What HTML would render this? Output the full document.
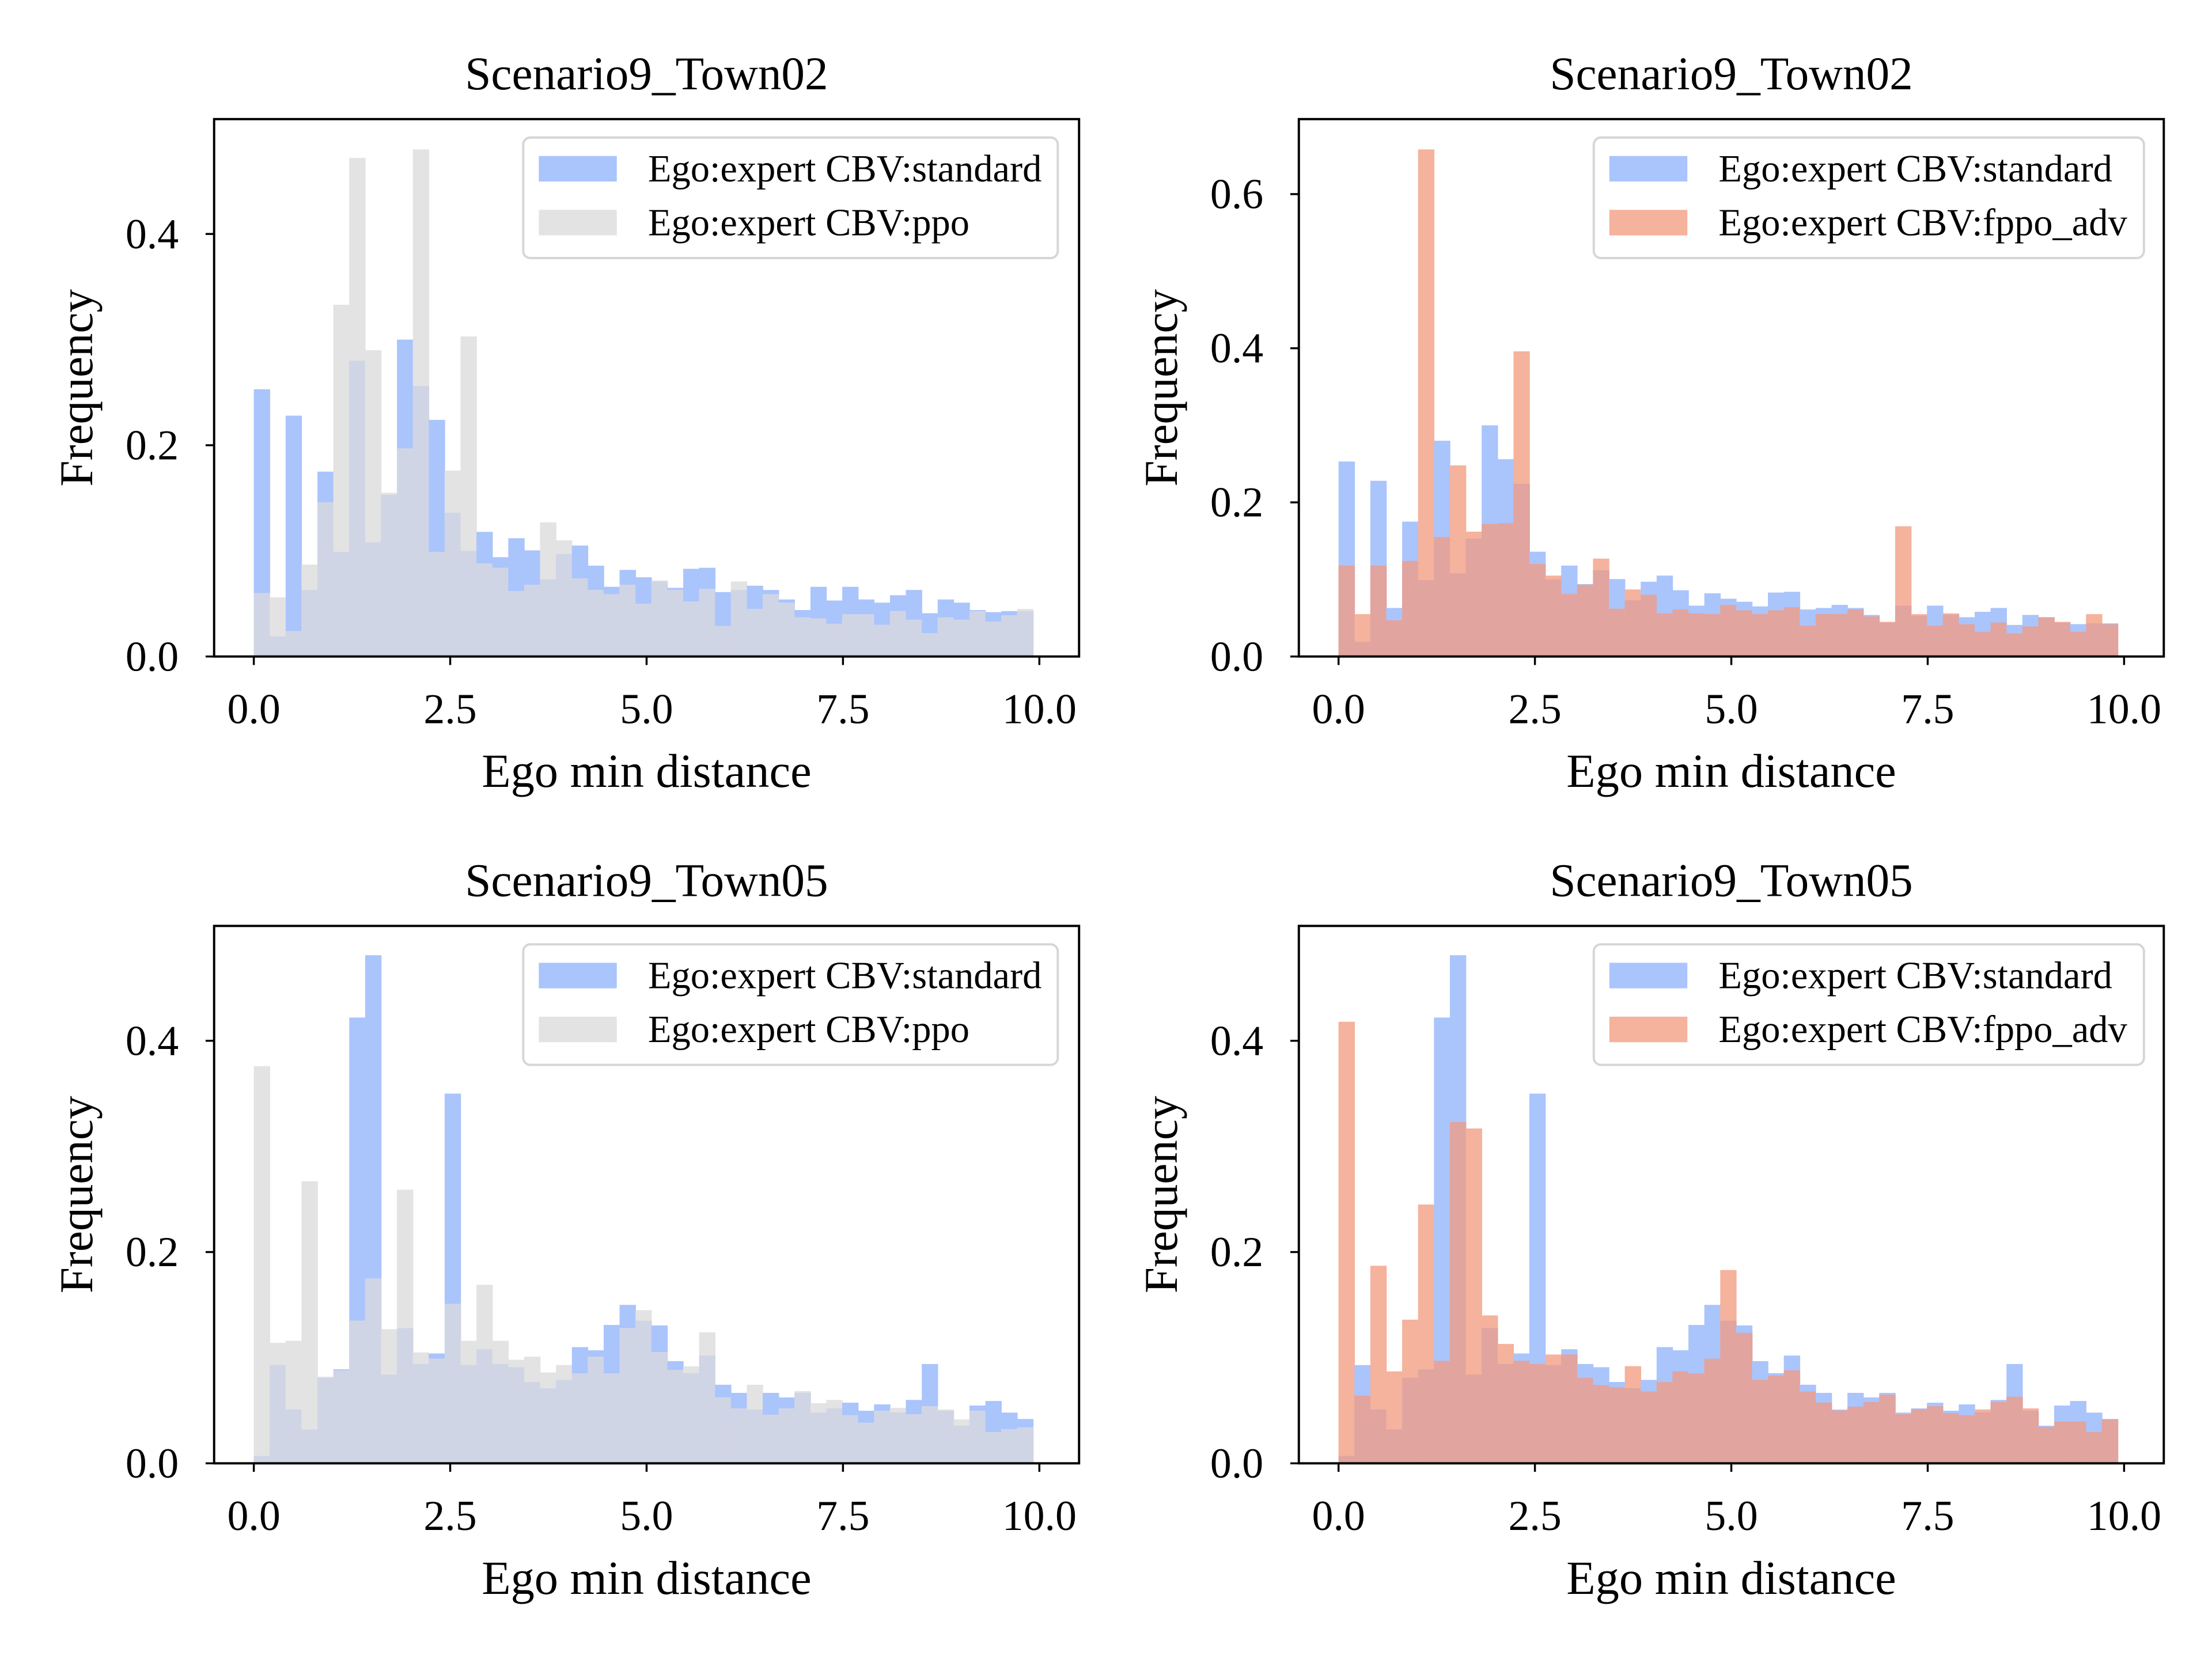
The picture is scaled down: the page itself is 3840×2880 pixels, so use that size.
<!DOCTYPE html>
<html><head><meta charset="utf-8"><style>
html,body{margin:0;padding:0;background:#fff}
svg{display:block}
text{font-family:"Liberation Serif","DejaVu Serif",serif;fill:#000}
</style></head><body>
<svg id="fig" width="3840" height="2880" viewBox="0 0 1560 1170" xmlns="http://www.w3.org/2000/svg"></svg>
<script>
// ---- data (frequency per bin, 49 bins over 0..~10) ----
const binStart = 0;
const binEnd = 9.92;
const xTicks = [0, 2.5, 5, 7.5, 10];
const xTickLabels = ["0.0", "2.5", "5.0", "7.5", "10.0"];
const yTicksA = [0, 0.2, 0.4];
const yTicksB = [0, 0.2, 0.4, 0.6];
const yTickLabelsA = ["0.0", "0.2", "0.4"];
const yTickLabelsB = ["0.0", "0.2", "0.4", "0.6"];

const town02Standard = [.253,.019,.228,.063,.175,.099,.280,.108,.153,.300,.256,.224,.136,.100,.118,.094,.112,.1005,.073,.097,.105,.086,.066,.082,.075,
 .071,.065,.083,.084,.061,.063,.067,.063,.054,.044,.066,.053,.066,.054,.051,.058,.063,.041,.054,.051,.044,.042,.043,.043];
const town02Ppo = [.060,.056,.024,.087,.146,.333,.472,.290,.155,.197,.480,.099,.176,.303,.088,.084,.062,.068,.127,.110,.074,.063,.059,.068,.050,
 .072,.063,.052,.064,.029,.071,.045,.059,.051,.037,.036,.031,.040,.040,.030,.043,.035,.022,.037,.035,.043,.033,.039,.045];
const town02Fppo = [.118,.055,.118,.047,.124,.658,.155,.248,.162,.172,.173,.396,.120,.105,.081,.093,.127,.062,.087,.080,.056,.061,.056,.055,.067,
 .060,.055,.060,.064,.040,.055,.055,.061,.052,.045,.169,.055,.040,.056,.042,.032,.044,.030,.039,.051,.045,.032,.055,.042];
const town05Standard = [.007,.093,.051,.032,.081,.089,.422,.481,.084,.128,.094,.104,.350,.093,.108,.094,.091,.077,.071,.079,.110,.107,.131,.150,.135,
 .1305,.0967,.0853,.102,.0744,.0667,.0509,.0667,.0624,.0667,.048,.052,.0574,.0498,.0558,.0482,.060,.094,.0498,.0356,.0547,.059,.048,.042];
const town05Ppo = [.376,.114,.116,.267,.082,.088,.135,.175,.127,.259,.105,.099,.151,.116,.169,.116,.098,.101,.086,.093,.085,.101,.085,.128,.145,
 .1054,.0885,.0918,.124,.0624,.052,.0744,.046,.052,.0684,.057,.060,.0455,.0384,.0498,.0525,.0465,.054,.051,.0416,.0498,.0296,.0324,.034];
const town05Fppo = [.418,.064,.187,.087,.136,.245,.097,.323,.317,.140,.113,.097,.094,.103,.103,.081,.074,.072,.092,.068,.077,.087,.085,.099,.183,
 .1234,.079,.083,.088,.068,.0575,.050,.0536,.058,.065,.0465,.051,.054,.0476,.0455,.051,.058,.063,.052,.0345,.0395,.0395,.0296,.0416];

const NS = "http://www.w3.org/2000/svg";
const svg = document.getElementById('fig');
function mk(tag, attrs, parent){
  const e = document.createElementNS(NS, tag);
  for (const k in attrs) e.setAttribute(k, attrs[k]);
  (parent||svg).appendChild(e);
  return e;
}
const BLUE="#aac4fc", GRAY="#e3e3e3", LAV="#d0d5e5", ORANGE="#f5b29c", ROSY="#e1a49f";

function panel(cfg){
  const g = mk('g', {});
  
  
  const L=cfg.left, T=cfg.top, W=610, H=379;
  const x0 = L+28, xPer = 55.4;
  const yBase = T+H;
  const xs = v => x0 + v*xPer;
  const ys = v => yBase - v*cfg.yPer;
  const n = cfg.a.length;
  const bw = (binEnd-binStart)/n;
  for (let i=0;i<n;i++){
    const xa = xs(binStart+i*bw), xb = xs(binStart+(i+1)*bw);
    const a = cfg.a[i], b = cfg.b[i], m = Math.min(a,b);
    const r1 = mk('rect',{x:xa,y:ys(a),width:xb-xa+0.3,height:yBase-ys(a),fill:BLUE},g);
    
    
    const r2 = mk('rect',{x:xa,y:ys(b),width:xb-xa+0.3,height:yBase-ys(b),fill:cfg.c2},g);
    
    
    const r3 = mk('rect',{x:xa,y:ys(m),width:xb-xa+0.3,height:yBase-ys(m),fill:cfg.cOv},g);
    
    
  }
  const fr = mk('rect',{x:L,y:T,width:W,height:H,fill:'none',stroke:'#000','stroke-width':1.6},g);
  
  
  xTicks.forEach((v,i)=>{
    const x = xs(v);
    mk('line',{x1:x,y1:yBase,x2:x,y2:yBase+6,stroke:'#000','stroke-width':1.4},g);
    const t = mk('text',{x:x,y:yBase+47,'text-anchor':'middle','font-size':30},g);
    t.textContent = xTickLabels[i];
    
    
  });
  cfg.yt.forEach((v,i)=>{
    const y = ys(v);
    mk('line',{x1:L,y1:y,x2:L-6,y2:y,stroke:'#000','stroke-width':1.4},g);
    const t = mk('text',{x:L-25,y:y+10,'text-anchor':'end','font-size':30},g);
    t.textContent = cfg.ytl[i];
    
    
  });
  const ti = mk('text',{x:L+W/2,y:T-21,'text-anchor':'middle','font-size':33},g);
  ti.textContent = cfg.title;
  
  
  const xl = mk('text',{x:L+W/2,y:yBase+92,'text-anchor':'middle','font-size':33.5},g);
  xl.textContent = 'Ego min distance';
  
  
  const yl = mk('text',{x:0,y:0,'text-anchor':'middle','font-size':33,transform:`translate(${L-86},${T+H/2}) rotate(-90)`},g);
  yl.textContent = 'Frequency';
  
  
  // legend
  const lg = mk('g',{},g);
  
  
  const lx = cfg.legX, ly = T+13;
  mk('rect',{x:lx,y:ly,width:cfg.legW,height:85,rx:5,fill:'#fff','fill-opacity':0.8,stroke:'#d6d6d6','stroke-width':1.6},lg);
  const labels = ['Ego:expert CBV:standard', cfg.label2];
  const cols = [BLUE, cfg.c2];
  labels.forEach((s,i)=>{
    const p = mk('rect',{x:lx+11,y:ly+13+i*38,width:55,height:18,fill:cols[i]},lg);
    
    
    const t = mk('text',{x:lx+88,y:ly+31+i*38,'font-size':27},lg);
    t.textContent = s;
    
    
  });
}
panel({name:'panel-town02-ppo',left:151,top:84,yPer:745,yt:yTicksA,ytl:yTickLabelsA,a:town02Standard,b:town02Ppo,c2:GRAY,cOv:LAV,series2:'ppo',title:'Scenario9_Town02',legX:369,legW:377,label2:'Ego:expert CBV:ppo'});
panel({name:'panel-town02-fppo',left:916,top:84,yPer:543.5,yt:yTicksB,ytl:yTickLabelsB,a:town02Standard,b:town02Fppo,c2:ORANGE,cOv:ROSY,series2:'fppo-adv',title:'Scenario9_Town02',legX:1124,legW:388,label2:'Ego:expert CBV:fppo_adv'});
panel({name:'panel-town05-ppo',left:151,top:653,yPer:745,yt:yTicksA,ytl:yTickLabelsA,a:town05Standard,b:town05Ppo,c2:GRAY,cOv:LAV,series2:'ppo',title:'Scenario9_Town05',legX:369,legW:377,label2:'Ego:expert CBV:ppo'});
panel({name:'panel-town05-fppo',left:916,top:653,yPer:745,yt:yTicksA,ytl:yTickLabelsA,a:town05Standard,b:town05Fppo,c2:ORANGE,cOv:ROSY,series2:'fppo-adv',title:'Scenario9_Town05',legX:1124,legW:388,label2:'Ego:expert CBV:fppo_adv'});
</script>
</body></html>
